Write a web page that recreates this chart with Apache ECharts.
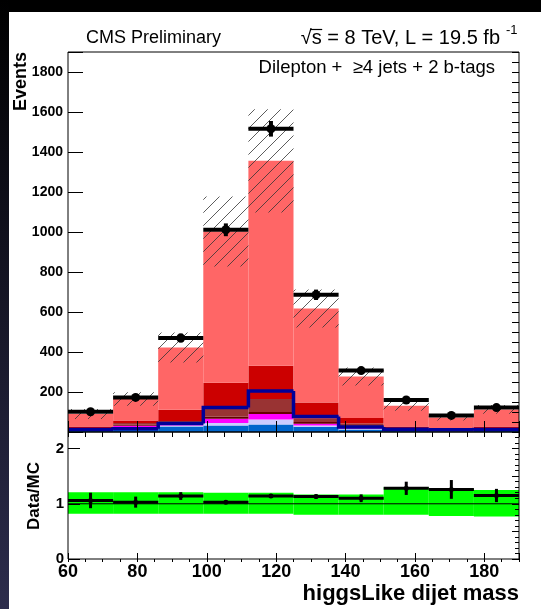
<!DOCTYPE html>
<html><head><meta charset="utf-8">
<script src="https://cdn.jsdelivr.net/npm/echarts@6/dist/echarts.min.js"></script>
<style>html,body{margin:0;padding:0;background:#fff}#c{width:541px;height:609px}</style>
</head><body><div id="c"></div><script>
// ---- data ----
const binEdges    = [60,73,86,99,112,125,138,151,164,177,190];
const dataCounts  = [101,173,470,1011,1516,686,307,160,83,122];
const dataErrors  = [10,13,22,32,39,26,17,13,9,11];
const mcBlue      = [8,12,28,33,38,26,12,6,4,6];
const mcLavender  = [2,4,4,12,24,7,4,2,1,2];
const mcMagenta   = [2,15,6,21,28,8,4,2,1,2];
const mcMaroon    = [3,5,7,11,10,9,10,4,2,4];
const mcBrown     = [5,9,10,38,65,18,12,6,2,6];
const mcDarkRed   = [8,12,56,131,166,80,28,8,5,8];
const mcSalmon    = [62,108,312,756,1025,469,208,103,58,85];
const mcUncert    = [25,34,75,175,258,95,45,25,15,22];
const navyLine    = [12,16,43,122,205,77,25,14,11,12];
const ratioValues = [1.06,1.03,1.14,1.03,1.14,1.13,1.10,1.28,1.26,1.15];
const ratioErrors = [0.14,0.10,0.07,0.03,0.03,0.04,0.07,0.12,0.17,0.12];
const bandLow     = [0.82,0.82,0.82,0.82,0.82,0.80,0.80,0.80,0.78,0.77];
const bandHigh    = [1.21,1.21,1.21,1.20,1.20,1.17,1.17,1.30,1.27,1.25];
const xTickLabels = ['60','80','100','120','140','160','180'];
const yTickLabels = ['200','400','600','800','1000','1200','1400','1600','1800'];
const ratioTickLabels = ['0','1','2'];

const FONT = '"Liberation Sans", Arial, Helvetica, sans-serif';
const chart = echarts.init(document.getElementById('c'), null, {renderer:'canvas'});

const nb = dataCounts.length;
const lo = i => binEdges[i], hi = i => binEdges[i+1];

const layers = [
  {v: mcBlue, c: '#0066cc'},
  {v: mcLavender, c: '#ccccff'},
  {v: mcMagenta, c: '#ff00ff'},
  {v: mcMaroon, c: '#660000'},
  {v: mcBrown, c: '#993333'},
  {v: mcDarkRed, c: '#cc0000'},
  {v: mcSalmon, c: '#ff6666'}
];

function rectRender(fill){
  return function(params, api){
    const a = api.coord([api.value(0), api.value(3)]);
    const b = api.coord([api.value(1), api.value(2)]);
    return {type:'rect', shape:{x:a[0], y:a[1], width:b[0]-a[0], height:b[1]-a[1]}, style:{fill:fill}};
  };
}

const series = [];
const base = new Array(nb).fill(0);
layers.forEach((L, k) => {
  const rows = [];
  for (let i=0;i<nb;i++){ rows.push([lo(i), hi(i), base[i], base[i]+L.v[i]]); base[i] += L.v[i]; }
  series.push({type:'custom', xAxisIndex:0, yAxisIndex:0, renderItem: rectRender(L.c), data: rows,
    encode:{x:[0,1], y:[2,3]}, clip:true, z:2+k*0.01, silent:true});
});
const mcTotal = base.slice();

// navy outline histogram
const navyRows = navyLine.map((v,i)=>[lo(i), hi(i), v, i===0 ? v : navyLine[i-1]]);
series.push({type:'custom', xAxisIndex:0, yAxisIndex:0, data: navyRows, encode:{x:[0,1], y:[2,3]}, clip:true, z:3, silent:true,
  renderItem:(params, api)=>{
    const p0 = api.coord([api.value(0), api.value(3)]);
    const p1 = api.coord([api.value(0), api.value(2)]);
    const p2 = api.coord([api.value(1), api.value(2)]);
    return {type:'polyline', shape:{points:[p0,p1,p2]}, style:{stroke:'#000099', lineWidth:3.5, fill:null}};
  }});

// hatch pattern for MC uncertainty
const T = 13;
const pc = document.createElement('canvas'); pc.width = T; pc.height = T;
const g = pc.getContext('2d'); g.strokeStyle = '#333'; g.lineWidth = 0.8;
g.beginPath(); g.moveTo(0,T); g.lineTo(T,0); g.moveTo(-2,2); g.lineTo(2,-2); g.moveTo(T-2,T+2); g.lineTo(T+2,T-2); g.stroke();
const hatchRows = mcTotal.map((t,i)=>[lo(i), hi(i), t-mcUncert[i], t+mcUncert[i]]);
series.push({type:'custom', xAxisIndex:0, yAxisIndex:0, data: hatchRows, encode:{x:[0,1], y:[2,3]}, clip:true, z:4, silent:true,
  renderItem: rectRender({image: pc, repeat:'repeat'})});

// data points
function crossRender(lw, r){
  return function(params, api){
    const x0=api.value(0), x1=api.value(1), v=api.value(2), e=api.value(3);
    const pL = api.coord([x0,v]), pR = api.coord([x1,v]);
    const pT = api.coord([(x0+x1)/2, v+e]), pB = api.coord([(x0+x1)/2, v-e]);
    return {type:'group', children:[
      {type:'line', shape:{x1:pL[0],y1:pL[1],x2:pR[0],y2:pR[1]}, style:{stroke:'#000', lineWidth:lw}},
      {type:'line', shape:{x1:pT[0],y1:pT[1],x2:pB[0],y2:pB[1]}, style:{stroke:'#000', lineWidth:lw}},
      {type:'circle', shape:{cx:pT[0], cy:pL[1], r:r}, style:{fill:'#000'}}
    ]};
  };
}
series.push({type:'custom', xAxisIndex:0, yAxisIndex:0, data: dataCounts.map((v,i)=>[lo(i),hi(i),v,dataErrors[i]]),
  encode:{x:[0,1], y:2}, clip:true, z:5, silent:true, renderItem: crossRender(4, 4.5)});

// ratio panel
series.push({type:'custom', xAxisIndex:2, yAxisIndex:2, data: bandLow.map((l,i)=>[lo(i),hi(i),l,bandHigh[i]]),
  encode:{x:[0,1], y:[2,3]}, clip:true, z:2, silent:true, renderItem: rectRender('#00ff00')});
series.push({type:'line', xAxisIndex:2, yAxisIndex:2, data:[[binEdges[0],1],[binEdges[nb],1]], symbol:'none',
  lineStyle:{color:'#000', width:1}, z:3, silent:true, animation:false});
series.push({type:'custom', xAxisIndex:2, yAxisIndex:2, data: ratioValues.map((v,i)=>[lo(i),hi(i),v,ratioErrors[i]]),
  encode:{x:[0,1], y:2}, clip:true, z:5, silent:true, renderItem: crossRender(3, 2.5)});

const GL = 68, GR = 22;
function tickAxis(grid, opts){
  return Object.assign({
    type:'value', gridIndex:grid, z:10,
    axisLine:{show:false}, splitLine:{show:false},
    axisTick:{show:true, inside:true, lineStyle:{color:'#000', width:1}},
    axisLabel:{show:false}
  }, opts);
}
const xLabFmt = v => xTickLabels.includes(String(v)) ? String(v) : '';
const xAxes = [
  tickAxis(0, {min:60, max:190, interval:20, axisTick:{show:true, inside:true, length:11, lineStyle:{color:'#000'}}}),
  tickAxis(0, {min:60, max:190, interval:5, axisTick:{show:true, inside:true, length:5, lineStyle:{color:'#000'}}}),
  tickAxis(1, {min:60, max:190, interval:20, axisTick:{show:true, inside:true, length:6, lineStyle:{color:'#000'}},
    axisLabel:{show:true, formatter:xLabFmt, fontFamily:FONT, fontWeight:'bold', fontSize:18, color:'#000', margin:4}}),
  tickAxis(1, {min:60, max:190, interval:5, axisTick:{show:true, inside:true, length:3, lineStyle:{color:'#000'}}})
];
const yAxes = [
  tickAxis(0, {min:0, max:1900, interval:200, axisTick:{show:true, inside:true, length:15, lineStyle:{color:'#000'}},
    axisLabel:{show:true, formatter: v => yTickLabels.includes(String(v)) ? String(v) : '', fontFamily:FONT, fontWeight:'bold', fontSize:14, color:'#000', margin:5}}),
  tickAxis(0, {min:0, max:1900, interval:50, axisTick:{show:true, inside:true, length:7, lineStyle:{color:'#000'}}}),
  tickAxis(1, {min:0, max:2.3, interval:1, axisTick:{show:true, inside:true, length:12, lineStyle:{color:'#000'}},
    axisLabel:{show:true, formatter: v => ratioTickLabels.includes(String(v)) ? String(v) : '', fontFamily:FONT, fontWeight:'bold', fontSize:15, color:'#000', margin:4}}),
  tickAxis(1, {min:0, max:2.3, interval:0.5, axisTick:{show:true, inside:true, length:7, lineStyle:{color:'#000'}}}),
  tickAxis(1, {min:0, max:2.3, interval:0.1, axisTick:{show:true, inside:true, length:4, lineStyle:{color:'#000'}}})
];

// overline for the sqrt sign
const mc = document.createElement('canvas').getContext('2d');
const lumiFont = '20px ' + FONT;
mc.font = lumiFont;
const lumiText = '\u221As = 8 TeV, L = 19.5 fb';
const lumiRight = 500;
const lumiLeft = lumiRight - mc.measureText(lumiText).width;
const rootW = mc.measureText('\u221A').width;
const sW = mc.measureText('s').width;

const option = {
  animation:false,
  backgroundColor:'#ffffff',
  grid:[
    {left:GL, right:GR, top:52, height:380, show:true, borderColor:'#000', borderWidth:1, backgroundColor:'transparent', z:10},
    {left:GL, right:GR, top:432, height:127, show:true, borderColor:'#000', borderWidth:1, backgroundColor:'transparent', z:10}
  ],
  xAxis: xAxes,
  yAxis: yAxes,
  series: series,
  graphic:[
    {type:'rect', shape:{x:0,y:0,width:541,height:12}, style:{fill:'#000'}, z:-10, silent:true},
    {type:'rect', shape:{x:0,y:0,width:9,height:609}, style:{fill:new echarts.graphic.LinearGradient(0,0,0,1,[{offset:0,color:'#000'},{offset:1,color:'#2c2c4c'}])}, z:-10, silent:true},
    {type:'text', x:86, y:38, style:{text:'CMS Preliminary', font:'18px '+FONT, fill:'#000', align:'left', verticalAlign:'middle'}, z:20},
    {type:'text', x:lumiRight, y:38, style:{text:lumiText, font:lumiFont, fill:'#000', align:'right', verticalAlign:'middle'}, z:20},
    {type:'line', shape:{x1:lumiLeft+rootW-1.5, y1:29.5, x2:lumiLeft+rootW+sW+0.5, y2:29.5}, style:{stroke:'#000', lineWidth:1.2}, z:20},
    {type:'text', x:506, y:30, style:{text:'-1', font:'13px '+FONT, fill:'#000', align:'left', verticalAlign:'middle'}, z:20},
    {type:'text', x:495, y:68, style:{text:'Dilepton +  \u22654 jets + 2 b-tags', font:'18.5px '+FONT, fill:'#000', align:'right', verticalAlign:'middle'}, z:20},
    {type:'text', x:21, y:52, rotation:Math.PI/2, style:{text:'Events', font:'bold 18px '+FONT, fill:'#000', align:'right', verticalAlign:'middle'}, z:20},
    {type:'text', x:34, y:496, rotation:Math.PI/2, style:{text:'Data/MC', font:'bold 17px '+FONT, fill:'#000', align:'center', verticalAlign:'middle'}, z:20},
    {type:'text', x:519, y:594, style:{text:'higgsLike dijet mass', font:'bold 22px '+FONT, fill:'#000', align:'right', verticalAlign:'middle'}, z:20}
  ]
};
chart.setOption(option);
</script></body></html>
